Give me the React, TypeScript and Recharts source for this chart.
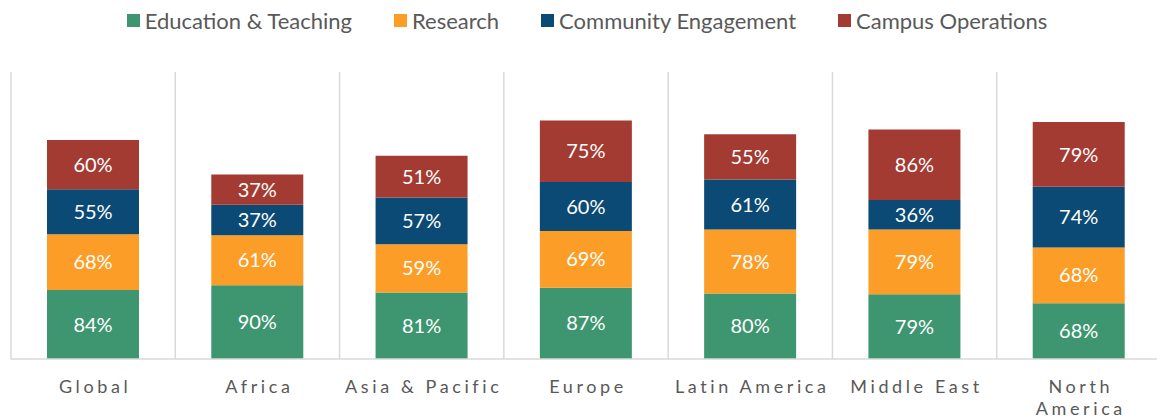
import React from "react";
import { BarChart, Bar, XAxis, YAxis, CartesianGrid, Legend, LabelList } from "recharts";

const categories = ["Global", "Africa", "Asia & Pacific", "Europe", "Latin America", "Middle East", "North America"];
const tickLines = [["Global"], ["Africa"], ["Asia & Pacific"], ["Europe"], ["Latin America"], ["Middle East"], ["North", "America"]];
const education = [84, 90, 81, 87, 80, 79, 68];
const research = [68, 61, 59, 69, 78, 79, 68];
const community = [55, 37, 57, 60, 61, 36, 74];
const campus = [60, 37, 51, 75, 55, 86, 79];

const seriesNames = ["Education & Teaching", "Research", "Community Engagement", "Campus Operations"];
const seriesKeys = ["education", "research", "community", "campus"];
const seriesColors = ["#3d9670", "#fb9d27", "#0b4a75", "#a33b33"];

const data = categories.map((c, i) => ({
  name: c,
  education: education[i],
  research: research[i],
  community: community[i],
  campus: campus[i],
}));

const FONT = "Lato, 'Open Sans', sans-serif";
const TEXT_COLOR = "#595959";
const GRID_COLOR = "#d9d9d9";

const CustomTick = (props: any) => {
  const { x, y, payload } = props;
  const lines = tickLines[payload.index] || [payload.value];
  return (
    <text
      x={x}
      y={y + 26}
      textAnchor="middle"
      fill={TEXT_COLOR}
      fontSize={18}
      fontFamily={FONT}
      letterSpacing={3.6}
    >
      {lines.map((l: string, i: number) => (
        <tspan key={i} x={x + 2} dy={i === 0 ? 0 : 22}>
          {l}
        </tspan>
      ))}
    </text>
  );
};

const LegendContent = () => (
  <div
    style={{
      display: "flex",
      justifyContent: "center",
      alignItems: "center",
      fontFamily: FONT,
      fontSize: 22,
      color: TEXT_COLOR,
      paddingLeft: 2,
      height: 40,
    }}
  >
    {seriesNames.map((n, i) => (
      <div key={n} style={{ display: "flex", alignItems: "center", marginLeft: i === 0 ? 0 : 42 }}>
        <span style={{ width: 13, height: 13, background: seriesColors[i], marginRight: 5, display: "inline-block" }} />
        <span>{n}</span>
      </div>
    ))}
  </div>
);

const verticalGen = (props: any) => {
  const { offset } = props;
  const n = categories.length;
  const out: number[] = [];
  for (let i = 0; i <= n; i++) out.push(offset.left + (i * offset.width) / n);
  return out;
};

export default function App() {
  return (
    <div style={{ position: "fixed", left: 0, top: 0, width: 1157, height: 420, overflow: "hidden", background: "#fff" }}>
      <BarChart
        width={1170}
        height={420}
        data={data}
        margin={{ top: 32, right: 9, bottom: 6, left: 11 }}
      >
        <CartesianGrid
          horizontal={false}
          vertical={true}
          stroke={GRID_COLOR}
          strokeWidth={1.5}
          verticalCoordinatesGenerator={verticalGen}
        />
        <XAxis
          dataKey="name"
          tickLine={false}
          axisLine={{ stroke: GRID_COLOR, strokeWidth: 1.5 }}
          tick={<CustomTick />}
          interval={0}
          height={55}
        />
        <YAxis hide domain={[0, 350]} />
        <Legend verticalAlign="top" content={<LegendContent />} wrapperStyle={{ top: 0 }} />
        {seriesKeys.map((k, i) => (
          <Bar key={k} dataKey={k} name={seriesNames[i]} stackId="a" fill={seriesColors[i]} barSize={92} isAnimationActive={false}>
            <LabelList
              dataKey={k}
              position="center"
              formatter={(v: any) => `${v}%`}
              fill="#ffffff"
              fontSize={20}
              fontFamily={FONT}
            />
          </Bar>
        ))}
      </BarChart>
    </div>
  );
}
